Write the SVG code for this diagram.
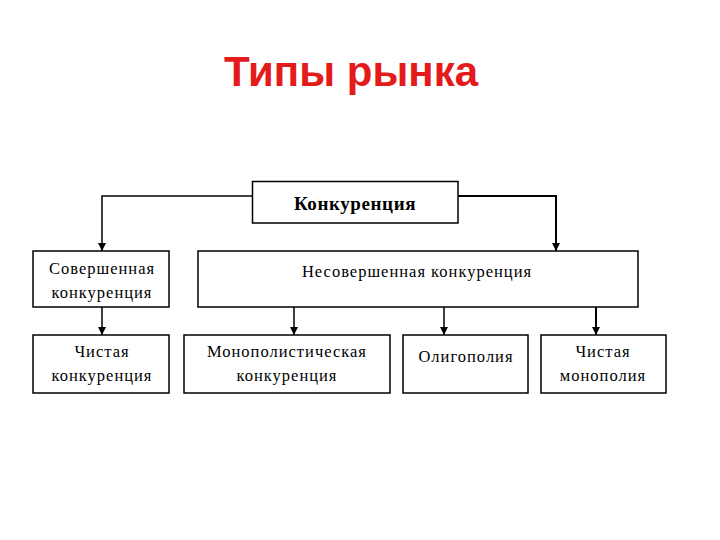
<svg xmlns="http://www.w3.org/2000/svg" width="720" height="540" viewBox="0 0 720 540">
<defs>
<marker id="arr" markerWidth="8" markerHeight="8" refX="8" refY="4" orient="auto" markerUnits="userSpaceOnUse" viewBox="0 0 8 8">
<path d="M0,0 L8,4 L0,8 Z" fill="#000"/>
</marker>
</defs>
<style>
.box{fill:#fff;stroke:#000;stroke-width:1.5}
.t{font-family:"Liberation Serif","DejaVu Serif",serif;font-size:16.5px;fill:#000;text-anchor:middle;letter-spacing:1px}
.c{fill:none;stroke:#000;stroke-width:1.5}
</style>
<rect width="720" height="540" fill="#fff"/>
<text x="351" y="86" font-family="'Liberation Sans','Open Sans',sans-serif" font-size="42" font-weight="bold" fill="#e31b1b" text-anchor="middle">Типы рынка</text>
<g id="connectors">
<path class="c" d="M252,196 H102 V251" marker-end="url(#arr)"/>
<path class="c" style="stroke-width:2" d="M458,196 H556 V251" marker-end="url(#arr)"/>
<path class="c" d="M102,307 V335" marker-end="url(#arr)"/>
<path class="c" d="M294,307 V335" marker-end="url(#arr)"/>
<path class="c" d="M444,307 V335" marker-end="url(#arr)"/>
<path class="c" style="stroke-width:2" d="M596,307 V335" marker-end="url(#arr)"/>
</g>
<g id="konkurenciya">
<rect class="box" x="252.5" y="181.5" width="205.5" height="41.5"/>
<text x="355" y="210" font-family="'Liberation Serif','DejaVu Serif',serif" font-size="19" font-weight="bold" letter-spacing="0.6" text-anchor="middle">Конкуренция</text>
</g>
<g id="sovershennaya">
<rect class="box" x="33" y="251" width="136" height="56"/>
<text class="t" x="102" y="274">Совершенная</text>
<text class="t" x="102" y="298">конкуренция</text>
</g>
<g id="nesovershennaya">
<rect class="box" x="198" y="251" width="440" height="56"/>
<text class="t" x="417" y="277">Несовершенная конкуренция</text>
</g>
<g id="chistaya-konkurenciya">
<rect class="box" x="33" y="335" width="136" height="58"/>
<text class="t" x="102" y="357">Чистая</text>
<text class="t" x="102" y="381">конкуренция</text>
</g>
<g id="monopolisticheskaya">
<rect class="box" x="184" y="335" width="206" height="58"/>
<text class="t" x="287" y="357">Монополистическая</text>
<text class="t" x="287" y="381">конкуренция</text>
</g>
<g id="oligopoliya">
<rect class="box" x="403" y="335" width="125" height="58"/>
<text class="t" x="466" y="362">Олигополия</text>
</g>
<g id="chistaya-monopoliya">
<rect class="box" x="541" y="335" width="125" height="58"/>
<text class="t" x="603" y="357">Чистая</text>
<text class="t" x="603" y="381">монополия</text>
</g>
</svg>
